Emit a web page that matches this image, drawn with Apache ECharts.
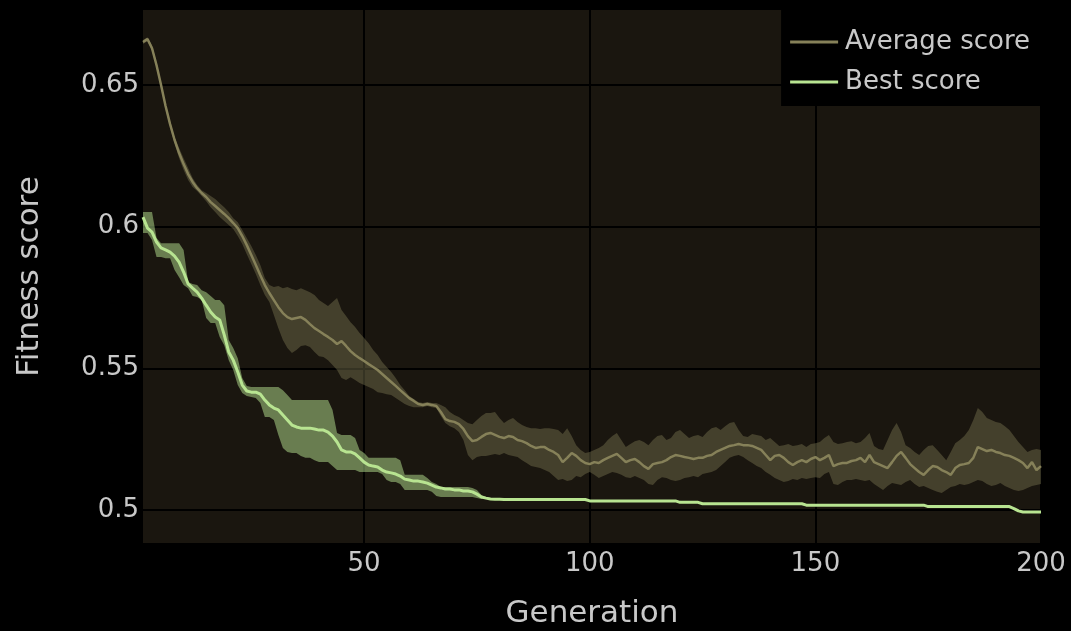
<!DOCTYPE html>
<html>
<head>
<meta charset="utf-8">
<script src="https://cdn.jsdelivr.net/npm/echarts@6/dist/echarts.min.js"></script>
<style>
  html, body { margin: 0; padding: 0; background: #000; }
  #chart { width: 1071px; height: 631px; }
</style>
</head>
<body>
<div id="chart"></div>
<script>
// Tick labels shown on each axis
const xTicks = [50, 100, 150, 200];
const yTicks = [0.5, 0.55, 0.6, 0.65];

// Generations 1..200 (x categories)
const generations = [];
for (let g = 1; g <= 200; g++) generations.push(String(g));

// Average fitness per generation, with its spread (upper / lower edge)
const avgMean = [
  0.6652, 0.6662, 0.6630, 0.6570, 0.6500, 0.6426, 0.6362, 0.6306, 0.6260, 0.6221,
  0.6186, 0.6158, 0.6136, 0.6119, 0.6105, 0.6087, 0.6073, 0.6059, 0.6045, 0.6030,
  0.6013, 0.5995, 0.5967, 0.5935, 0.5900, 0.5865, 0.5829, 0.5794, 0.5766, 0.5741,
  0.5716, 0.5695, 0.5681, 0.5674, 0.5678, 0.5681, 0.5671, 0.5656, 0.5642, 0.5632,
  0.5621, 0.5611, 0.5600, 0.5586, 0.5596, 0.5579, 0.5561, 0.5547, 0.5536, 0.5526,
  0.5515, 0.5505, 0.5494, 0.5480, 0.5466, 0.5452, 0.5438, 0.5423, 0.5409, 0.5395,
  0.5385, 0.5374, 0.5371, 0.5374, 0.5371, 0.5367, 0.5346, 0.5321, 0.5314, 0.5311,
  0.5303, 0.5286, 0.5261, 0.5243, 0.5247, 0.5258, 0.5268, 0.5272, 0.5265, 0.5258,
  0.5254, 0.5261, 0.5258, 0.5247, 0.5243, 0.5236, 0.5226, 0.5219, 0.5222, 0.5222,
  0.5212, 0.5205, 0.5194, 0.5169, 0.5184, 0.5201, 0.5191, 0.5176, 0.5166, 0.5162,
  0.5169, 0.5166, 0.5176, 0.5184, 0.5191, 0.5198, 0.5184, 0.5169, 0.5176, 0.5180,
  0.5169, 0.5155, 0.5145, 0.5162, 0.5166, 0.5169, 0.5176, 0.5187, 0.5194, 0.5191,
  0.5187, 0.5184, 0.5180, 0.5184, 0.5184, 0.5191, 0.5194, 0.5205, 0.5212, 0.5219,
  0.5226, 0.5229, 0.5233, 0.5229, 0.5229, 0.5226, 0.5219, 0.5212, 0.5194, 0.5176,
  0.5191, 0.5194, 0.5184, 0.5169, 0.5159, 0.5169, 0.5176, 0.5169, 0.5180, 0.5187,
  0.5176, 0.5184, 0.5194, 0.5155, 0.5162, 0.5166, 0.5166, 0.5173, 0.5176, 0.5184,
  0.5169, 0.5194, 0.5169, 0.5162, 0.5155, 0.5148, 0.5169, 0.5191, 0.5205, 0.5184,
  0.5162, 0.5148, 0.5134, 0.5124, 0.5141, 0.5155, 0.5152, 0.5141, 0.5134, 0.5124,
  0.5148, 0.5159, 0.5162, 0.5166, 0.5184, 0.5222, 0.5215, 0.5208, 0.5212, 0.5205,
  0.5201, 0.5194, 0.5191, 0.5184, 0.5176, 0.5166, 0.5148, 0.5169, 0.5141, 0.5155
];
const avgUpper = [
  0.6659, 0.6669, 0.6641, 0.6581, 0.6510, 0.6436, 0.6373, 0.6316, 0.6278, 0.6242,
  0.6207, 0.6172, 0.6147, 0.6129, 0.6119, 0.6108, 0.6098, 0.6083, 0.6069, 0.6052,
  0.6030, 0.6016, 0.5988, 0.5960, 0.5932, 0.5900, 0.5865, 0.5819, 0.5794, 0.5787,
  0.5791, 0.5783, 0.5787, 0.5780, 0.5776, 0.5783, 0.5776, 0.5769, 0.5759, 0.5741,
  0.5731, 0.5720, 0.5734, 0.5748, 0.5706, 0.5685, 0.5663, 0.5646, 0.5625, 0.5607,
  0.5589, 0.5565, 0.5547, 0.5522, 0.5505, 0.5487, 0.5466, 0.5441, 0.5423, 0.5402,
  0.5392, 0.5381, 0.5378, 0.5381, 0.5378, 0.5378, 0.5371, 0.5363, 0.5346, 0.5335,
  0.5328, 0.5318, 0.5307, 0.5303, 0.5318, 0.5332, 0.5342, 0.5342, 0.5346, 0.5325,
  0.5307, 0.5318, 0.5325, 0.5311, 0.5300, 0.5293, 0.5289, 0.5289, 0.5286, 0.5289,
  0.5289, 0.5286, 0.5282, 0.5268, 0.5289, 0.5261, 0.5229, 0.5212, 0.5201, 0.5205,
  0.5212, 0.5219, 0.5229, 0.5247, 0.5261, 0.5272, 0.5247, 0.5222, 0.5233, 0.5243,
  0.5247, 0.5240, 0.5229, 0.5247, 0.5261, 0.5265, 0.5247, 0.5254, 0.5275, 0.5282,
  0.5268, 0.5254, 0.5261, 0.5265, 0.5258, 0.5275, 0.5289, 0.5293, 0.5282, 0.5296,
  0.5307, 0.5311, 0.5282, 0.5261, 0.5258, 0.5268, 0.5265, 0.5261, 0.5247, 0.5254,
  0.5240, 0.5226, 0.5229, 0.5233, 0.5226, 0.5229, 0.5233, 0.5222, 0.5233, 0.5236,
  0.5240, 0.5254, 0.5265, 0.5240, 0.5233, 0.5236, 0.5240, 0.5243, 0.5236, 0.5240,
  0.5254, 0.5272, 0.5226, 0.5215, 0.5212, 0.5247, 0.5282, 0.5307, 0.5275, 0.5229,
  0.5219, 0.5205, 0.5194, 0.5212, 0.5226, 0.5229, 0.5212, 0.5194, 0.5176, 0.5205,
  0.5236, 0.5247, 0.5261, 0.5282, 0.5318, 0.5360, 0.5346, 0.5325, 0.5318, 0.5311,
  0.5307, 0.5296, 0.5282, 0.5261, 0.5240, 0.5222, 0.5205, 0.5212, 0.5215, 0.5212
];
const avgLower = [
  0.6645, 0.6655, 0.6620, 0.6560, 0.6489, 0.6415, 0.6352, 0.6295, 0.6242, 0.6200,
  0.6165, 0.6140, 0.6126, 0.6108, 0.6090, 0.6069, 0.6052, 0.6034, 0.6020, 0.6006,
  0.5992, 0.5967, 0.5939, 0.5903, 0.5868, 0.5833, 0.5794, 0.5759, 0.5734, 0.5688,
  0.5642, 0.5600, 0.5572, 0.5554, 0.5565, 0.5579, 0.5582, 0.5575, 0.5558, 0.5543,
  0.5540, 0.5529, 0.5512, 0.5494, 0.5466, 0.5459, 0.5469, 0.5459, 0.5448, 0.5441,
  0.5434, 0.5427, 0.5416, 0.5413, 0.5409, 0.5406, 0.5395, 0.5385, 0.5374, 0.5367,
  0.5363, 0.5363, 0.5363, 0.5367, 0.5363, 0.5360, 0.5332, 0.5307, 0.5296, 0.5289,
  0.5275, 0.5247, 0.5194, 0.5176, 0.5187, 0.5191, 0.5191, 0.5194, 0.5198, 0.5194,
  0.5201, 0.5194, 0.5191, 0.5187, 0.5176, 0.5166, 0.5155, 0.5152, 0.5148, 0.5141,
  0.5134, 0.5120, 0.5106, 0.5109, 0.5102, 0.5106, 0.5120, 0.5116, 0.5127, 0.5134,
  0.5124, 0.5113, 0.5120, 0.5127, 0.5134, 0.5131, 0.5124, 0.5116, 0.5113, 0.5120,
  0.5113, 0.5106, 0.5092, 0.5088, 0.5106, 0.5116, 0.5113, 0.5106, 0.5102, 0.5106,
  0.5113, 0.5116, 0.5120, 0.5116, 0.5127, 0.5131, 0.5134, 0.5141, 0.5155, 0.5169,
  0.5184, 0.5191, 0.5194, 0.5187, 0.5176, 0.5166, 0.5155, 0.5148, 0.5134, 0.5124,
  0.5113, 0.5106, 0.5099, 0.5102, 0.5109, 0.5106, 0.5113, 0.5109, 0.5113, 0.5116,
  0.5113, 0.5127, 0.5134, 0.5092, 0.5088, 0.5099, 0.5106, 0.5106, 0.5109, 0.5106,
  0.5102, 0.5106, 0.5092, 0.5081, 0.5071, 0.5085, 0.5095, 0.5092, 0.5088, 0.5099,
  0.5106, 0.5092, 0.5081, 0.5085, 0.5078, 0.5071, 0.5064, 0.5060, 0.5071, 0.5081,
  0.5085, 0.5092, 0.5088, 0.5092, 0.5099, 0.5106, 0.5102, 0.5092, 0.5085, 0.5088,
  0.5095, 0.5085, 0.5078, 0.5071, 0.5067, 0.5071, 0.5078, 0.5085, 0.5088, 0.5092
];

// Best fitness per generation, with its spread over the first generations
const bestScore = [
  0.6034, 0.5995, 0.5981, 0.5946, 0.5925, 0.5918, 0.5910, 0.5896, 0.5875, 0.5840,
  0.5798, 0.5783, 0.5769, 0.5748, 0.5723, 0.5699, 0.5681, 0.5671, 0.5618, 0.5558,
  0.5529, 0.5487, 0.5441, 0.5420, 0.5416, 0.5416, 0.5409, 0.5388, 0.5371, 0.5360,
  0.5353, 0.5335, 0.5318, 0.5300, 0.5293, 0.5289, 0.5289, 0.5289, 0.5286, 0.5282,
  0.5282, 0.5275, 0.5261, 0.5240, 0.5212, 0.5205, 0.5205, 0.5198, 0.5184, 0.5169,
  0.5159, 0.5155, 0.5152, 0.5141, 0.5134, 0.5131, 0.5127, 0.5120, 0.5109, 0.5106,
  0.5102, 0.5102, 0.5099, 0.5095, 0.5088, 0.5081, 0.5078, 0.5074, 0.5074, 0.5071,
  0.5071, 0.5067, 0.5067, 0.5064, 0.5056, 0.5046, 0.5042, 0.5039, 0.5038, 0.5038,
  0.5037, 0.5037, 0.5037, 0.5037, 0.5037, 0.5037, 0.5037, 0.5037, 0.5037, 0.5037,
  0.5037, 0.5037, 0.5037, 0.5037, 0.5037, 0.5037, 0.5037, 0.5037, 0.5037, 0.5032,
  0.5032, 0.5032, 0.5032, 0.5032, 0.5032, 0.5032, 0.5032, 0.5032, 0.5032, 0.5032,
  0.5032, 0.5032, 0.5032, 0.5032, 0.5032, 0.5032, 0.5032, 0.5032, 0.5032, 0.5027,
  0.5027, 0.5027, 0.5027, 0.5027, 0.5022, 0.5022, 0.5022, 0.5022, 0.5022, 0.5022,
  0.5022, 0.5022, 0.5022, 0.5022, 0.5022, 0.5022, 0.5022, 0.5022, 0.5022, 0.5022,
  0.5022, 0.5022, 0.5022, 0.5022, 0.5022, 0.5022, 0.5022, 0.5017, 0.5017, 0.5017,
  0.5017, 0.5017, 0.5017, 0.5017, 0.5017, 0.5017, 0.5017, 0.5017, 0.5017, 0.5017,
  0.5017, 0.5017, 0.5017, 0.5017, 0.5017, 0.5017, 0.5017, 0.5017, 0.5017, 0.5017,
  0.5017, 0.5017, 0.5017, 0.5017, 0.5012, 0.5012, 0.5012, 0.5012, 0.5012, 0.5012,
  0.5012, 0.5012, 0.5012, 0.5012, 0.5012, 0.5012, 0.5012, 0.5012, 0.5012, 0.5012,
  0.5012, 0.5012, 0.5012, 0.5005, 0.4997, 0.4993, 0.4993, 0.4993, 0.4993, 0.4993
];
const bestUpper = [
  0.6052, 0.6052, 0.6052, 0.5960, 0.5942, 0.5942, 0.5942, 0.5942, 0.5942, 0.5918,
  0.5805, 0.5798, 0.5794, 0.5776, 0.5769, 0.5755, 0.5741, 0.5741, 0.5723, 0.5600,
  0.5572, 0.5536, 0.5466, 0.5438, 0.5434, 0.5434, 0.5434, 0.5434, 0.5434, 0.5434,
  0.5434, 0.5423, 0.5406, 0.5388, 0.5388, 0.5388, 0.5388, 0.5388, 0.5388, 0.5388,
  0.5388, 0.5388, 0.5353, 0.5272, 0.5265, 0.5265, 0.5265, 0.5254, 0.5212, 0.5201,
  0.5184, 0.5184, 0.5184, 0.5184, 0.5184, 0.5184, 0.5184, 0.5176, 0.5124, 0.5124,
  0.5124, 0.5124, 0.5124, 0.5113, 0.5099, 0.5092, 0.5081, 0.5081, 0.5081, 0.5081,
  0.5081, 0.5081, 0.5081, 0.5078, 0.5071, 0.5053, 0.5046
];
const bestLower = [
  0.5978, 0.5978, 0.5953, 0.5893, 0.5893, 0.5889, 0.5889, 0.5847, 0.5822, 0.5794,
  0.5783, 0.5755, 0.5752, 0.5741, 0.5678, 0.5660, 0.5660, 0.5611, 0.5582, 0.5529,
  0.5494, 0.5441, 0.5413, 0.5402, 0.5399, 0.5395, 0.5378, 0.5328, 0.5328, 0.5318,
  0.5265, 0.5219, 0.5205, 0.5201, 0.5201, 0.5191, 0.5184, 0.5184, 0.5176, 0.5169,
  0.5169, 0.5169, 0.5155, 0.5141, 0.5141, 0.5141, 0.5141, 0.5141, 0.5134, 0.5134,
  0.5134, 0.5134, 0.5134, 0.5127, 0.5106, 0.5099, 0.5099, 0.5092, 0.5071, 0.5071,
  0.5071, 0.5071, 0.5071, 0.5071, 0.5064, 0.5049, 0.5046, 0.5046, 0.5046, 0.5046,
  0.5046, 0.5046, 0.5046, 0.5046, 0.5042, 0.5039, 0.5039
];

// Band thickness for the stacked area fills
const avgBand = avgUpper.map((u, i) => +(u - avgLower[i]).toFixed(5));
const bestBand = bestUpper.map((u, i) => +(u - bestLower[i]).toFixed(5));

const FONT = 'DejaVu Sans';
const TEXT = '#c8c8c8';
const AVG_COLOR = '#868159';
const BEST_COLOR = '#b8e491';

const chart = echarts.init(document.getElementById('chart'), null, { renderer: 'canvas' });

const hidden = { opacity: 0 };

chart.setOption({
  backgroundColor: '#000',
  animation: false,
  textStyle: { fontFamily: FONT },
  grid: {
    left: 143, right: 30, top: 10, bottom: 88,
    outerBoundsMode: 'none',
    show: true, backgroundColor: '#1a160f', borderWidth: 0
  },
  legend: {
    data: ['Average score', 'Best score'],
    orient: 'vertical',
    right: 30, top: 10,
    backgroundColor: '#000',
    padding: [19, 11, 11, 9],
    itemGap: 14,
    itemWidth: 48,
    itemHeight: 3,
    icon: 'rect',
    selectedMode: false,
    textStyle: { color: TEXT, fontSize: 26, fontFamily: FONT, padding: [0, 0, 0, 2] }
  },
  xAxis: {
    type: 'category',
    data: generations,
    boundaryGap: false,
    axisLine: { show: false },
    axisTick: { show: false },
    axisLabel: {
      interval: (i, v) => xTicks.includes(+v),
      color: TEXT, fontSize: 26, fontFamily: FONT, margin: 8
    },
    splitLine: {
      show: true,
      interval: (i, v) => xTicks.includes(+v),
      lineStyle: { color: '#000', width: 2 }
    },
    name: 'Generation',
    nameLocation: 'middle',
    nameGap: 55,
    nameTextStyle: { color: TEXT, fontSize: 31, fontFamily: FONT }
  },
  yAxis: {
    type: 'value',
    min: 0.48835,
    max: 0.6765,
    axisLine: { show: false },
    axisTick: { show: false, customValues: yTicks },
    axisLabel: {
      customValues: yTicks,
      color: TEXT, fontSize: 26, fontFamily: FONT, margin: 4
    },
    splitLine: { show: true, lineStyle: { color: '#000', width: 2 } },
    name: 'Fitness score',
    nameLocation: 'middle',
    nameGap: 98,
    nameTextStyle: { color: TEXT, fontSize: 31, fontFamily: FONT }
  },
  series: [
    {
      name: 'avgLow', type: 'line', data: avgLower, stack: 'avg',
      symbol: 'none', silent: true, lineStyle: hidden
    },
    {
      name: 'avgSpread', type: 'line', data: avgBand, stack: 'avg',
      symbol: 'none', silent: true, lineStyle: hidden,
      areaStyle: { color: 'rgba(133,127,87,0.4)', opacity: 1 }
    },
    {
      name: 'Average score', type: 'line', data: avgMean,
      symbol: 'none', silent: true,
      itemStyle: { color: AVG_COLOR },
      lineStyle: { color: AVG_COLOR, width: 2.5 }
    },
    {
      name: 'bestLow', type: 'line', data: bestLower, stack: 'best',
      symbol: 'none', silent: true, lineStyle: hidden
    },
    {
      name: 'bestSpread', type: 'line', data: bestBand, stack: 'best',
      symbol: 'none', silent: true, lineStyle: hidden,
      areaStyle: { color: 'rgba(184,228,145,0.5)', opacity: 1 }
    },
    {
      name: 'Best score', type: 'line', data: bestScore,
      symbol: 'none', silent: true,
      itemStyle: { color: BEST_COLOR },
      lineStyle: { color: BEST_COLOR, width: 3 }
    }
  ]
});
</script>
</body>
</html>
